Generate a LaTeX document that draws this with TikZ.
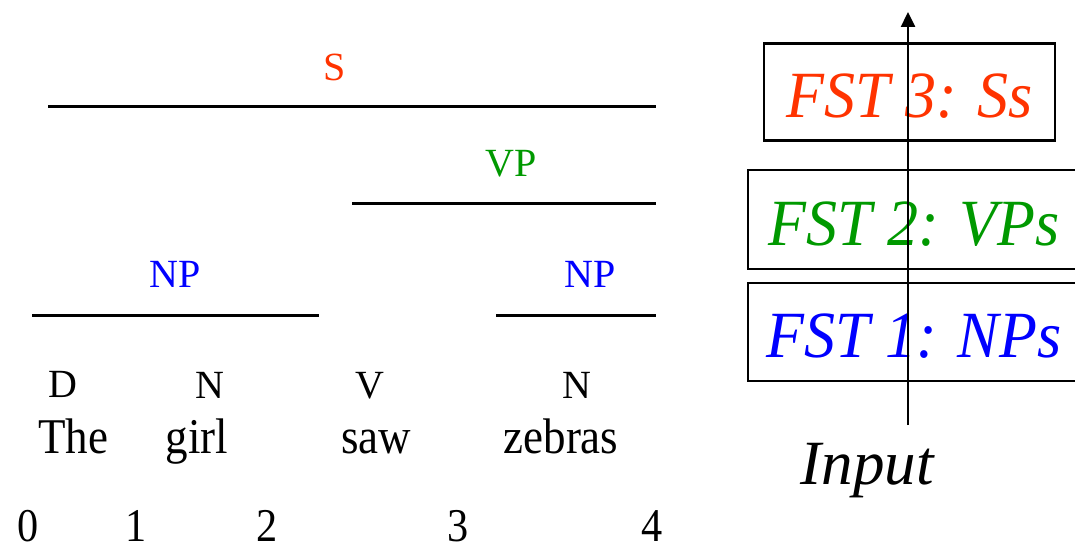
\documentclass[tikz,border=0pt]{standalone}
\usepackage{fontspec}
\setmainfont{Liberation Serif}
\newfontfamily\wordfont[FakeStretch=0.9]{Liberation Serif}
\newfontfamily\fstfont[FakeStretch=0.94]{Liberation Serif}
\usetikzlibrary{arrows.meta}
\definecolor{sred}{HTML}{FF3300}
\definecolor{vgreen}{HTML}{009900}
\definecolor{nblue}{HTML}{0000FF}
\begin{document}
\begin{tikzpicture}[x=1pt,y=-1pt,
  lab/.style={inner sep=0pt, anchor=base, font=\fontsize{40}{44}\selectfont},
  word/.style={inner sep=0pt, anchor=base, font=\wordfont\fontsize{50}{54}\selectfont},
  num/.style={inner sep=0pt, anchor=base, font=\wordfont\fontsize{47}{50}\selectfont},
  spanline/.style={line width=3pt},
  fst/.style={draw, line width=2.5pt, inner sep=0pt, font=\fstfont\fontsize{66}{70}\selectfont\itshape}
]
\useasboundingbox (0,0) rectangle (1075,543);
\clip (0,0) rectangle (1075,543);
% span lines
\coordinate (s1) at (48,106);   \coordinate (s2) at (656,106);
\coordinate (v1) at (352,203);  \coordinate (v2) at (656,203);
\coordinate (n1) at (32,315);   \coordinate (n2) at (319,315);
\coordinate (m1) at (496,315);  \coordinate (m2) at (656,315);
\draw[spanline] (s1) -- (s2);
\draw[spanline] (v1) -- (v2);
\draw[spanline] (n1) -- (n2);
\draw[spanline] (m1) -- (m2);
% labels
\node[lab, text=sred] (S) at (335,80) {S};
\node[lab, text=vgreen] (VP) at (511,176) {VP};
\node[lab, text=nblue] (NPa) at (175,287) {NP};
\node[lab, text=nblue] (NPb) at (590,287) {NP};
% POS
\node[lab] (pD) at (63,397) {D};
\node[lab] (pN1) at (210,398) {N};
\node[lab] (pV) at (370,398) {V};
\node[lab] (pN2) at (577,398) {N};
% words
\node[word] (wThe) at (73,453) {The};
\node[word] (wgirl) at (197,453) {girl};
\node[word] (wsaw) at (376,453) {saw};
\node[word] (wzeb) at (561,453) {zebras};
% numbers
\node[num] (d0) at (28,541) {0};
\node[num] (d1) at (136,541) {1};
\node[num] (d2) at (267,541) {2};
\node[num] (d3) at (458,541) {3};
\node[num] (d4) at (652,541) {4};
% FST boxes
\node[fst, text=sred, minimum width=291pt, text height=74pt, text depth=23pt] (f3) at (909.5,92) {FST 3: Ss};
\node[fst, text=vgreen, minimum width=332pt, text height=75pt, text depth=24pt] (f2) at (914,219.5) {FST 2: VPs};
\node[fst, text=nblue, minimum width=332pt, text height=74pt, text depth=24pt] (f1) at (914,332) {FST 1: NPs};
% input arrow
\coordinate (ain) at (908,425);
\coordinate (aout) at (908,12);
\draw[line width=2.5pt, -{Triangle[width=14pt,length=15pt]}] (ain) -- (aout);
\node[inner sep=0pt, anchor=base, font=\fontsize{63}{70}\selectfont\itshape] (inp) at (867,484) {Input};
\end{tikzpicture}
\end{document}
